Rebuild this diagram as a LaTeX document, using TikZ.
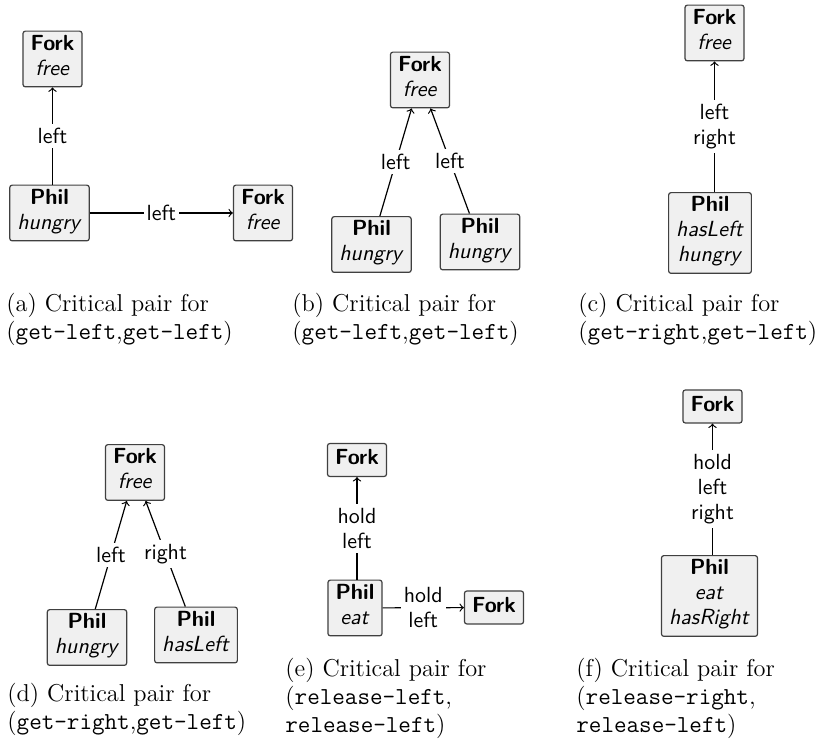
\documentclass[tikz,border=0pt]{standalone}
\begin{document}
\begin{tikzpicture}[x=0.5pt,y=-0.5pt,
  st/.style={draw=black!75, fill=black!6, rounded corners=1.2pt, line width=0.6pt,
    align=center, inner xsep=3.8pt, inner ysep=2pt,
    font=\fontsize{10.95}{12.5}\selectfont\sffamily,
    execute at begin node=\strut, execute at end node=\strut},
  lbl/.style={fill=white, align=center, inner xsep=1.5pt, inner ysep=2pt,
    font=\fontsize{10.95}{12.5}\selectfont\sffamily},
  conn/.style={->, line width=0.6pt},
  capt/.style={anchor=base west, align=left, inner sep=0pt,
    font=\fontsize{12.2}{14}\selectfont}]
\useasboundingbox (0,0) rectangle (816,742);

% (a)
\node[st] (forkA1) at (52.5,59) {\textbf{Fork}\\\textit{free}};
\node[st] (philA) at (49.5,213) {\textbf{Phil}\\\textit{hungry}};
\node[st] (forkA2) at (263,213) {\textbf{Fork}\\\textit{free}};
\draw[conn] (philA.north -| forkA1) -- node[lbl]{left} (forkA1.south);
\draw[conn] (philA) -- node[lbl]{left} (forkA2);
\node[capt] (capA) at (6,340) {(a) Critical pair for\\(\texttt{get-left},\texttt{get-left})};

% (b)
\node[st] (forkB) at (420,80) {\textbf{Fork}\\\textit{free}};
\node[st] (philB1) at (371.5,244.5) {\textbf{Phil}\\\textit{hungry}};
\node[st] (philB2) at (480,242) {\textbf{Phil}\\\textit{hungry}};
\draw[conn] (philB1) -- node[lbl]{left} (forkB);
\draw[conn] (philB2) -- node[lbl]{left} (forkB);
\node[capt] (capB) at (292,340) {(b) Critical pair for\\(\texttt{get-left},\texttt{get-left})};

% (c)
\node[st] (forkC) at (714.5,33) {\textbf{Fork}\\\textit{free}};
\node[st] (philC) at (710,233) {\textbf{Phil}\\\textit{hasLeft}\\\textit{hungry}};
\draw[conn] (philC.north -| forkC) -- node[lbl]{left\\right} (forkC.south);
\node[capt] (capC) at (578,340) {(c) Critical pair for\\(\texttt{get-right},\texttt{get-left})};

% (d)
\node[st] (forkD) at (135,472.5) {\textbf{Fork}\\\textit{free}};
\node[st] (philD1) at (87,637.5) {\textbf{Phil}\\\textit{hungry}};
\node[st] (philD2) at (196,635) {\textbf{Phil}\\\textit{hasLeft}};
\draw[conn] (philD1) -- node[lbl]{left} (forkD);
\draw[conn] (philD2) -- node[lbl]{right} (forkD);
\node[capt] (capD) at (7,730) {(d) Critical pair for\\(\texttt{get-right},\texttt{get-left})};

% (e)
\node[st] (forkE1) at (357,460) {\textbf{Fork}};
\node[st] (philE) at (355,608) {\textbf{Phil}\\\textit{eat}};
\node[st] (forkE2) at (494,607.5) {\textbf{Fork}};
\draw[conn] (philE.north -| forkE1) -- node[lbl]{hold\\left} (forkE1.south);
\draw[conn] (philE) -- node[lbl]{hold\\left} (forkE2);
\node[capt] (capE) at (285,733) {(e) Critical pair for\\(\texttt{release-left},\\\texttt{release-left})};

% (f)
\node[st] (forkF) at (712.5,406.5) {\textbf{Fork}};
\node[st] (philF) at (709.5,596) {\textbf{Phil}\\\textit{eat}\\\textit{hasRight}};
\draw[conn] (philF.north -| forkF) -- node[lbl]{hold\\left\\right} (forkF.south);
\node[capt] (capF) at (576,733) {(f) Critical pair for\\(\texttt{release-right},\\\texttt{release-left})};
\end{tikzpicture}
\end{document}
